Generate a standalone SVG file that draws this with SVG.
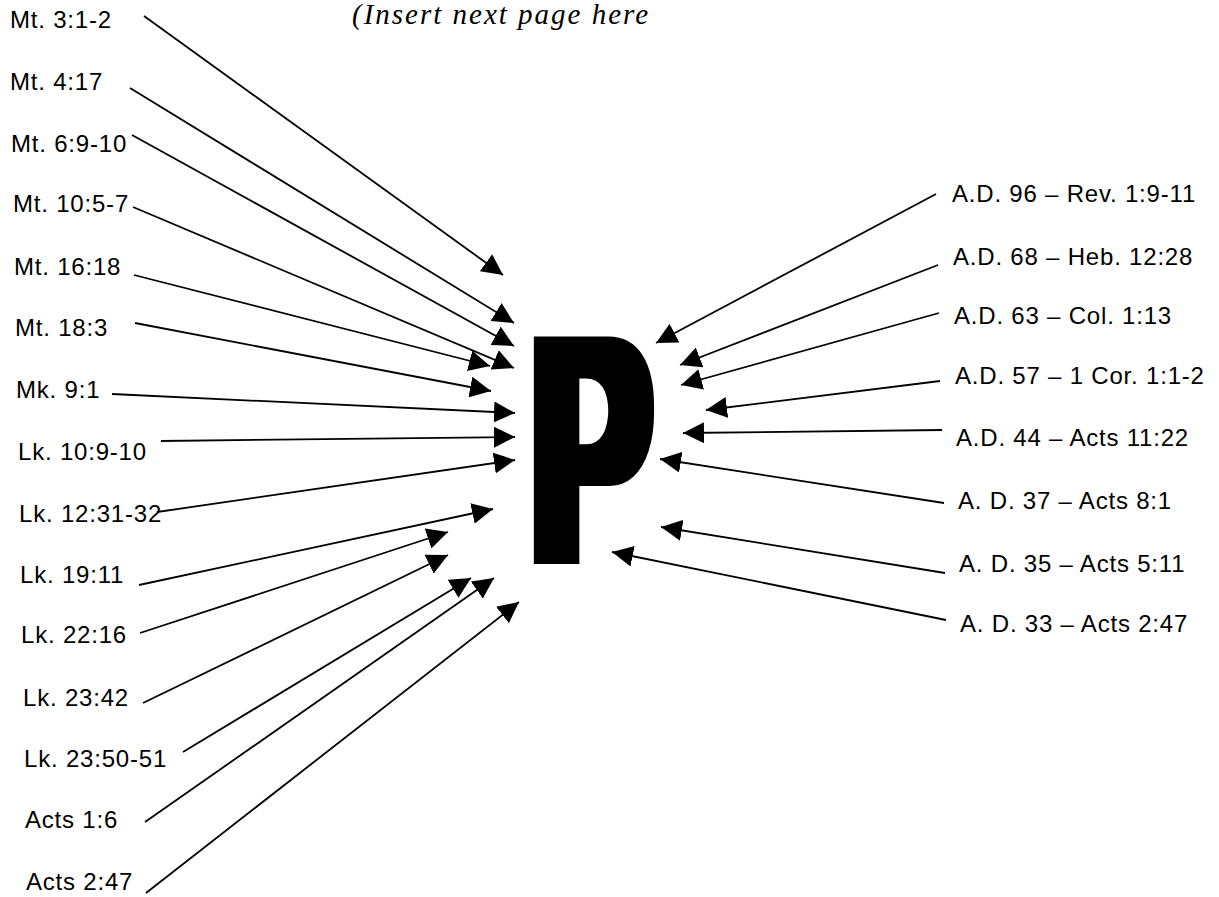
<svg xmlns="http://www.w3.org/2000/svg" width="1219" height="897" viewBox="0 0 1219 897">
<style>
.lbl{font-family:"Liberation Sans",Arial,sans-serif;font-size:24px;letter-spacing:0.8px;fill:#000}
.cn line{stroke:#000;stroke-width:1.8;fill:none;marker-end:url(#ah)}
.hand{font-family:"Liberation Serif","Times New Roman",serif;font-style:italic;font-size:29px;letter-spacing:2px;fill:#000}
.big{font-family:"Liberation Sans",Arial,sans-serif;font-weight:bold;font-size:322px;fill:#000}
</style>
<defs>
<marker id="ah" markerUnits="userSpaceOnUse" markerWidth="21" markerHeight="21" viewBox="0 0 21 21" refX="21" refY="10.5" orient="auto">
<path d="M0,0 L21,10.5 L0,21 z" fill="#000"/>
</marker>
<filter id="thick" x="-20%" y="-10%" width="140%" height="120%">
<feMorphology operator="dilate" radius="10 3"/>
</filter>
</defs>
<rect width="1219" height="897" fill="#fff"/>
<text class="hand" x="352" y="24">(Insert next page here</text>
<g id="p-letter" filter="url(#thick)">
<text class="big" transform="translate(532,561) scale(0.55,1)">P</text>
</g>
<g id="left-labels">
<g id="n-mt3"><text class="lbl" x="10" y="28">Mt. 3:1-2</text></g>
<g id="n-mt4"><text class="lbl" x="10" y="90">Mt. 4:17</text></g>
<g id="n-mt6"><text class="lbl" x="11" y="152">Mt. 6:9-10</text></g>
<g id="n-mt10"><text class="lbl" x="13" y="212">Mt. 10:5-7</text></g>
<g id="n-mt16"><text class="lbl" x="14" y="275">Mt. 16:18</text></g>
<g id="n-mt18"><text class="lbl" x="15" y="336">Mt. 18:3</text></g>
<g id="n-mk9"><text class="lbl" x="16" y="398">Mk. 9:1</text></g>
<g id="n-lk10"><text class="lbl" x="18" y="460">Lk. 10:9-10</text></g>
<g id="n-lk12"><text class="lbl" x="19" y="522">Lk. 12:31-32</text></g>
<g id="n-lk19"><text class="lbl" x="20" y="583">Lk. 19:11</text></g>
<g id="n-lk22"><text class="lbl" x="21" y="643">Lk. 22:16</text></g>
<g id="n-lk23a"><text class="lbl" x="23" y="706">Lk. 23:42</text></g>
<g id="n-lk23b"><text class="lbl" x="24" y="767">Lk. 23:50-51</text></g>
<g id="n-acts1"><text class="lbl" x="25" y="828">Acts 1:6</text></g>
<g id="n-acts2"><text class="lbl" x="26" y="890">Acts 2:47</text></g>
</g>
<g id="right-labels">
<g id="n-ad96"><text class="lbl" x="952" y="202">A.D. 96 – Rev. 1:9-11</text></g>
<g id="n-ad68"><text class="lbl" x="953" y="265">A.D. 68 – Heb. 12:28</text></g>
<g id="n-ad63"><text class="lbl" x="954" y="324">A.D. 63 – Col. 1:13</text></g>
<g id="n-ad57"><text class="lbl" x="955" y="384">A.D. 57 – 1 Cor. 1:1-2</text></g>
<g id="n-ad44"><text class="lbl" x="956" y="446">A.D. 44 – Acts 11:22</text></g>
<g id="n-ad37"><text class="lbl" x="958" y="509">A. D. 37 – Acts 8:1</text></g>
<g id="n-ad35"><text class="lbl" x="959" y="572">A. D. 35 – Acts 5:11</text></g>
<g id="n-ad33"><text class="lbl" x="960" y="632">A. D. 33 – Acts 2:47</text></g>
</g>
<g id="connectors" class="cn">
<line x1="144" y1="16" x2="503" y2="275"/>
<line x1="130" y1="88" x2="514" y2="323"/>
<line x1="132" y1="135" x2="514" y2="346"/>
<line x1="133" y1="207" x2="514" y2="368"/>
<line x1="134" y1="275" x2="490" y2="366"/>
<line x1="135" y1="323" x2="491" y2="391"/>
<line x1="112" y1="394" x2="515" y2="413"/>
<line x1="161" y1="441" x2="515" y2="437"/>
<line x1="157" y1="512" x2="515" y2="460"/>
<line x1="139" y1="585" x2="493" y2="509"/>
<line x1="140" y1="633" x2="448" y2="532"/>
<line x1="143" y1="703" x2="448" y2="555"/>
<line x1="183" y1="752" x2="471" y2="578"/>
<line x1="145" y1="822" x2="494" y2="578"/>
<line x1="146" y1="893" x2="519" y2="602"/>
<line x1="936" y1="194" x2="656" y2="343"/>
<line x1="938" y1="265" x2="680" y2="365"/>
<line x1="939" y1="313" x2="681" y2="385"/>
<line x1="940" y1="381" x2="706" y2="410"/>
<line x1="942" y1="430" x2="683" y2="433"/>
<line x1="944" y1="503" x2="660" y2="459"/>
<line x1="945" y1="573" x2="661" y2="527"/>
<line x1="946" y1="620" x2="612" y2="552"/>
</g>
</svg>
